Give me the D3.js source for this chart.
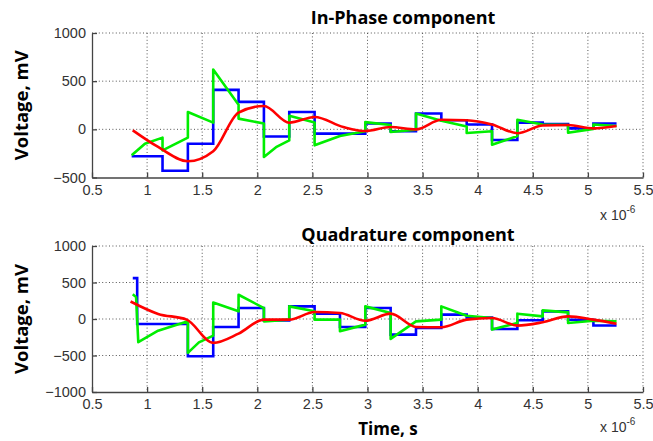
<!DOCTYPE html>
<html><head><meta charset="utf-8">
<script src="https://cdn.jsdelivr.net/npm/d3@7/dist/d3.min.js"></script>
<style>body{margin:0;background:#fff}svg{display:block}</style>
</head><body>
<svg id="c" width="653" height="441"></svg>
<script>
// ---------- data (time in µs, voltage in mV) ----------
const xTicks = [0.5, 1, 1.5, 2, 2.5, 3, 3.5, 4, 4.5, 5, 5.5];
const xTickLabels = ["0.5", "1", "1.5", "2", "2.5", "3", "3.5", "4", "4.5", "5", "5.5"];
const yTicksI = [-500, 0, 500, 1000];
const yTicksQ = [-1000, -500, 0, 500, 1000];

// In-Phase component
const blueIT = [0.86, 1.14, 1.37, 1.60, 1.83, 2.06, 2.29, 2.52, 2.75, 2.98, 3.21, 3.44, 3.67, 3.90, 4.13, 4.36, 4.59, 4.82, 5.05, 5.26];
const blueIV = [-280, -430, -150, 410, 285, -75, 180, -45, -45, 60, -20, 165, 95, 50, -110, 70, 55, 10, 60, 60];
const greenIT = [0.86, 0.98, 1.14, 1.14, 1.37, 1.37, 1.60, 1.60, 1.83, 1.83, 2.06, 2.06, 2.17, 2.29, 2.29, 2.52, 2.52, 2.75, 2.98, 2.98, 3.21, 3.21, 3.44, 3.44, 3.67, 3.90, 3.90, 4.13, 4.13, 4.36, 4.36, 4.59, 4.82, 4.82, 5.05, 5.05, 5.26];
const greenIV = [-270, -150, -86, -218, -86, 180, 70, 620, 256, 111, 60, -287, -185, -115, 140, 70, -166, -69, -20, 75, 45, -27, -5, 165, 90, 30, -38, -20, -160, -70, 100, 50, 45, -35, 5, 50, 35];
const redIT = [0.87, 1.10, 1.37, 1.60, 1.83, 2.06, 2.29, 2.52, 2.78, 2.98, 3.21, 3.44, 3.67, 3.90, 4.13, 4.36, 4.59, 4.82, 5.05, 5.26];
const redIV = [-10, -183, -332, -228, 173, 242, 69, 128, 24, -18, 24, 0, 100, 95, 50, -40, 40, 45, 10, 35];

// Quadrature component
const blueQT = [0.87, 0.91, 1.37, 1.60, 1.83, 2.06, 2.29, 2.52, 2.75, 2.98, 3.21, 3.44, 3.67, 3.90, 4.13, 4.36, 4.59, 4.82, 5.05, 5.26];
const blueQV = [560, -68, -510, -110, 150, -20, 173, 73, -110, 150, -214, -123, 60, 20, -136, -18, 105, -10, -90, -90];
const greenQT = [0.87, 0.90, 0.92, 1.10, 1.37, 1.37, 1.47, 1.60, 1.60, 1.83, 1.83, 2.06, 2.06, 2.29, 2.29, 2.52, 2.52, 2.75, 2.75, 2.98, 2.98, 3.21, 3.21, 3.44, 3.67, 3.67, 3.90, 4.13, 4.13, 4.36, 4.36, 4.59, 4.59, 4.82, 4.82, 5.05, 5.26];
const greenQV = [340, 300, -318, -160, -32, -464, -320, -227, 227, 105, 332, 150, -32, -9, 173, 105, -9, -9, -168, -77, 173, 82, -273, -32, -9, 173, 45, 14, -145, -55, 73, 36, 118, 91, -55, -23, -32];
const redQT = [0.85, 1.10, 1.36, 1.60, 1.83, 2.06, 2.29, 2.52, 2.75, 2.98, 3.21, 3.44, 3.67, 3.90, 4.13, 4.36, 4.59, 4.82, 5.05, 5.26];
const redQV = [240, 70, -9, -327, -200, -9, -9, 95, 82, -23, 73, -109, -114, -9, 14, -91, -45, 36, -9, -64];

// ---------- drawing ----------
const svg = d3.select("#c");
const left = 92, right = 643;
const x = d3.scaleLinear().domain([0.5, 5.5]).range([left, right]);
const tickFont = "'Liberation Sans', Arial, sans-serif";
const boldFont = "'Open Sans', 'DejaVu Sans', sans-serif";

const panels = [
  { title: "In-Phase component", top: 33, bottom: 177.5, domain: [-500, 1000], yTicks: yTicksI,
    blue: [blueIT, blueIV], green: [greenIT, greenIV], red: [redIT, redIV], titleX: 403, titleY: 24, expY: 220 },
  { title: "Quadrature component", top: 246, bottom: 392, domain: [-1000, 1000], yTicks: yTicksQ,
    blue: [blueQT, blueQV], green: [greenQT, greenQV], red: [redQT, redQV], titleX: 408, titleY: 241, expY: 432 }
];

panels.forEach(p => {
  const y = d3.scaleLinear().domain(p.domain).range([p.bottom, p.top]);
  const g = svg.append("g");

  // grid
  g.selectAll(".gx").data(xTicks.slice(1)).join("line")
    .attr("x1", d => x(d)).attr("x2", d => x(d)).attr("y1", p.top).attr("y2", p.bottom)
    .attr("stroke", "#555").attr("stroke-width", 1).attr("stroke-dasharray", "1,2.4");
  g.selectAll(".gy").data(p.yTicks.slice(1)).join("line")
    .attr("x1", left).attr("x2", right).attr("y1", d => y(d)).attr("y2", d => y(d))
    .attr("stroke", "#555").attr("stroke-width", 1).attr("stroke-dasharray", "1,2.4");

  // axes
  const xa = g.append("g").attr("transform", `translate(0,${p.bottom})`)
    .call(d3.axisBottom(x).tickValues(xTicks).tickFormat((d, i) => xTickLabels[i])
      .tickSizeInner(-5).tickSizeOuter(0).tickPadding(7));
  const ya = g.append("g").attr("transform", `translate(${left},0)`)
    .call(d3.axisLeft(y).tickValues(p.yTicks).tickFormat(d3.format("d"))
      .tickSizeInner(-5).tickSizeOuter(0).tickPadding(6));
  [xa, ya].forEach(a => {
    a.select(".domain").attr("stroke", "#444").attr("stroke-width", 1.3);
    a.selectAll(".tick line").attr("stroke", "#444").attr("stroke-width", 1.3);
    a.selectAll(".tick text").attr("fill", "#333").style("font-family", tickFont).style("font-size", "14.5px");
  });

  // series
  const step = d3.line().x(d => x(d[0])).y(d => y(d[1])).curve(d3.curveStepAfter);
  const lin = d3.line().x(d => x(d[0])).y(d => y(d[1]));
  const smooth = d3.line().x(d => x(d[0])).y(d => y(d[1])).curve(d3.curveMonotoneX);
  const zip = (a, b) => a.map((t, i) => [t, b[i]]);
  g.append("path").datum(zip(...p.blue)).attr("d", step)
    .attr("fill", "none").attr("stroke", "#0000ff").attr("stroke-width", 2.6);
  g.append("path").datum(zip(...p.green)).attr("d", lin)
    .attr("fill", "none").attr("stroke", "#00ee00").attr("stroke-width", 2.6).attr("stroke-linejoin", "round");
  g.append("path").datum(zip(...p.red)).attr("d", smooth)
    .attr("fill", "none").attr("stroke", "#ff0000").attr("stroke-width", 2.6);

  // title
  svg.append("text").attr("x", p.titleX).attr("y", p.titleY).attr("text-anchor", "middle")
    .style("font-family", boldFont).style("font-weight", "bold").style("font-size", "18px")
    .attr("fill", "#000").text(p.title);

  // y label
  const cy = (p.top + p.bottom) / 2;
  svg.append("text").attr("transform", `translate(28,${cy}) rotate(-90)`).attr("text-anchor", "middle")
    .style("font-family", boldFont).style("font-weight", "bold").style("font-size", "18.5px")
    .attr("fill", "#000").text("Voltage, mV");

  // exponent
  const ex = svg.append("text").attr("x", 600).attr("y", p.expY)
    .style("font-family", tickFont).style("font-size", "14px").attr("fill", "#333");
  ex.append("tspan").text("x 10");
  ex.append("tspan").attr("dy", -7).style("font-size", "10px").text("-6");
});

svg.append("text").attr("x", 388).attr("y", 435).attr("text-anchor", "middle")
  .style("font-family", boldFont).style("font-weight", "bold").style("font-size", "17px")
  .attr("fill", "#000").text("Time, s");
</script>
</body></html>
